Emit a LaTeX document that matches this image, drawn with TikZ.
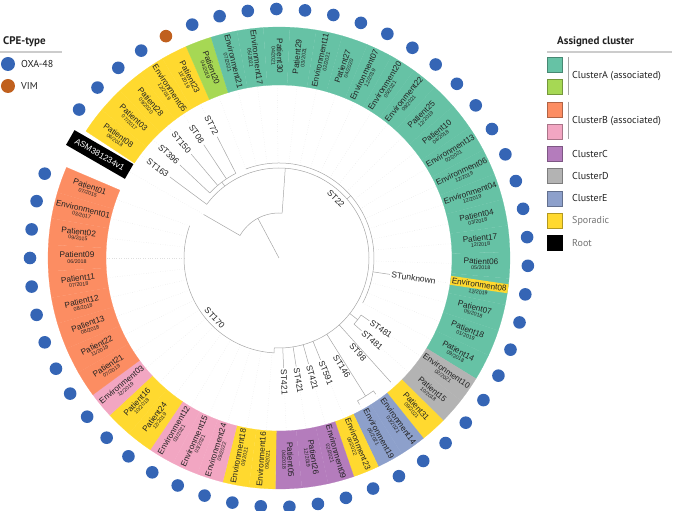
\documentclass[tikz,border=0pt]{standalone}
\usepackage{fontspec}
\setmainfont{Liberation Sans}
\newfontfamily\legfont{PT Sans}
\usepackage{tikz}
\usetikzlibrary{calc}

\definecolor{clA}{HTML}{66C2A5}
\definecolor{clAb}{HTML}{A6D854}
\definecolor{clB}{HTML}{FC8D62}
\definecolor{clBb}{HTML}{F2A6C2}
\definecolor{clC}{HTML}{B47CBC}
\definecolor{clD}{HTML}{B3B3B3}
\definecolor{clE}{HTML}{8DA0CB}
\definecolor{spor}{HTML}{FFD92F}
\definecolor{oxa}{HTML}{3565B5}
\definecolor{vim}{HTML}{C0601E}
\definecolor{ink}{HTML}{222222}

% name / month / year / ring colour / label style / dot colour
\def\leaves{%
Patient08/06/2018/spor/lblplain/oxa,%
Patient03/07/2017/spor/lblplain/oxa,%
Patient28/09/2020/spor/lblplain/oxa,%
Environment05/12/2019/spor/lblplain/oxa,%
Patient23/11/2019/spor/lblplain/vim,%
Patient20/04/2019/clAb/lblplain/oxa,%
Environment21/07/2021/clA/lblplain/oxa,%
Environment17/05/2021/clA/lblplain/oxa,%
Patient30/04/2021/clA/lblplain/oxa,%
Patient29/03/2021/clA/lblplain/oxa,%
Environment11/02/2021/clA/lblplain/oxa,%
Patient27/04/2020/clA/lblplain/oxa,%
Environment07/12/2019/clA/lblplain/oxa,%
Environment20/05/2021/clA/lblplain/oxa,%
Environment22/09/2021/clA/lblplain/oxa,%
Patient25/12/2019/clA/lblplain/oxa,%
Patient10/04/2018/clA/lblplain/oxa,%
Environment13/02/2021/clA/lblplain/oxa,%
Environment06/12/2019/clA/lblplain/oxa,%
Environment04/12/2019/clA/lblplain/oxa,%
Patient04/03/2018/clA/lblplain/oxa,%
Patient17/12/2018/clA/lblplain/oxa,%
Patient06/05/2018/clA/lblplain/oxa,%
Environment08/12/2019/clA/lblhl/oxa,%
Patient07/05/2018/clA/lblplain/oxa,%
Patient18/01/2019/clA/lblplain/oxa,%
Patient14/09/2018/clA/lblplain/oxa,%
Environment10/02/2021/clD/lblplain/oxa,%
Patient15/10/2018/clD/lblplain/oxa,%
Patient31/09/2021/spor/lblplain/oxa,%
Environment14/03/2021/clE/lblplain/oxa,%
Environment19/05/2021/clE/lblplain/oxa,%
Environment23/09/2022/spor/lblplain/oxa,%
Environment09/02/2021/clC/lblplain/oxa,%
Patient26/12/2019/clC/lblplain/oxa,%
Patient05/04/2018/clC/lblplain/oxa,%
Environment16/09/2021/spor/lblplain/oxa,%
Environment18/05/2021/spor/lblplain/oxa,%
Environment24/09/2022/clBb/lblplain/oxa,%
Environment15/03/2021/clBb/lblplain/oxa,%
Environment12/03/2021/clBb/lblplain/oxa,%
Patient24/12/2019/spor/lblplain/oxa,%
Patient16/10/2018/spor/lblplain/oxa,%
Environment03/12/2019/clBb/lblplain/oxa,%
Patient21/07/2019/clB/lblplain/oxa,%
Patient22/11/2019/clB/lblplain/oxa,%
Patient13/08/2018/clB/lblplain/oxa,%
Patient12/08/2018/clB/lblplain/oxa,%
Patient11/07/2018/clB/lblplain/oxa,%
Patient09/06/2018/clB/lblplain/oxa,%
Patient02/09/2015/clB/lblplain/oxa,%
Environment01/03/2017/clB/lblplain/oxa,%
Patient01/07/2015/clB/lblplain/oxa}

\begin{document}
\begin{tikzpicture}[x=1pt, y=1pt,
    branch/.style={draw=gray!70, line width=0.5pt},
    guide/.style={draw=gray!25, dotted, line width=0.4pt},
    leafname/.style={font=\fontsize{8.2}{9}\selectfont, text=ink, inner sep=0.2pt},
    leafdate/.style={font=\fontsize{5.3}{6}\selectfont, text=ink, inner sep=0.2pt, anchor=north},
    lblplain/.style={},
    lblhl/.style={fill=spor, minimum width=58pt, minimum height=9pt},
    stlab/.style={font=\fontsize{8.5}{9}\selectfont, text=ink, inner sep=0.5pt},
    legtext/.style={font=\legfont\fontsize{10}{11}\selectfont, text=ink, anchor=west, inner sep=0pt},
    legtitle/.style={font=\legfont\bfseries\fontsize{11}{12}\selectfont, text=ink, anchor=west, inner sep=0pt},
    legbox/.style={minimum size=15pt, inner sep=0pt, line width=0.6pt}]

\useasboundingbox (-279,-253) rectangle (406,258);

% ring of assigned clusters and CPE-type dots
\foreach \nm/\mo/\yr/\col/\hl/\dt [count=\j] in \leaves {
    \pgfmathsetmacro\a{150-\j*6.6}
    \fill[\col, draw=\col, line width=0.2pt] (\a-3.3:173pt)
        arc[start angle=\a-3.3, end angle=\a+3.3, radius=173pt]
        -- (\a+3.3:231pt)
        arc[start angle=\a+3.3, end angle=\a-3.3, radius=231pt] -- cycle;
    \fill[\dt] (\a:249pt) circle[radius=6.3pt];
}

% leaf labels
\foreach \nm/\mo/\yr/\col/\hl/\dt [count=\j] in \leaves {
    \pgfmathsetmacro\a{150-\j*6.6}
    \pgfmathsetmacro\rot{cos(\a)<0 ? \a+180 : \a}
    \node[leafname, \hl, rotate=\rot] (n\j) at ($(\a:202pt)+(\rot+90:3pt)$) {\nm};
    \node[leafdate, rotate=\rot] (d\j) at ($(n\j.south)+(\rot-90:0.6pt)$) {\mo/\yr};
}
\node[fill=black, text=white, rotate=330, minimum width=68pt, minimum height=17pt,
      font=\fontsize{8.5}{9}\selectfont, inner sep=0pt] (root) at (150:207pt) {ASM381234v1};

% dotted guides from tips to ring
\draw[guide] (150:87pt) -- (150:173pt);
\foreach \j in {1,...,5} \draw[guide] ({150-\j*6.6}:163pt) -- ({150-\j*6.6}:173pt);
\foreach \j in {6,...,23,25,26,27,37,38,...,53} \draw[guide] ({150-\j*6.6}:95pt) -- ({150-\j*6.6}:173pt);
\draw[guide] (-8.4:161pt) -- (-8.4:173pt);
\foreach \j in {28,29,33,34,35,36} \draw[guide] ({150-\j*6.6}:136pt) -- ({150-\j*6.6}:173pt);
\foreach \j in {30,31,32} \draw[guide] ({150-\j*6.6}:167pt) -- ({150-\j*6.6}:173pt);

% tree
\draw[branch] (0,0) -- (118:45pt);
\draw[branch] (86:45pt) arc[start angle=86, end angle=150, radius=45pt] -- (150:87pt);
\draw[branch] (86:45pt) -- (86:90pt);
\draw[branch] (143.4:136pt) -- (143.4:90pt)
    arc[start angle=143.4, end angle=-93, radius=90pt] -- (-93:95pt)
    arc[start angle=-93, end angle=-199.8, radius=95pt];
\draw[branch] (127:90pt) -- (127:95pt);
\draw[branch] (136.8:95pt) arc[start angle=136.8, end angle=117, radius=95pt];
\foreach \j in {2,...,5} \draw[branch] ({150-\j*6.6}:95pt) -- ({150-\j*6.6}:136pt);
\draw[branch] (41:90pt) -- (41:95pt);
\draw[branch] (110.4:95pt) arc[start angle=110.4, end angle=-28.2, radius=95pt];
\draw[branch] (-8.4:95pt) -- (-8.4:112pt);
\draw[branch] (-38.1:90pt) -- (-38.1:100pt);
\draw[branch] (-34.8:110pt) -- (-34.8:100pt)
    arc[start angle=-34.8, end angle=-41.4, radius=100pt] -- (-41.4:110pt);
\draw[branch] (-48:90pt) -- (-48:167pt);
\draw[branch] (-57.9:90pt) -- (-57.9:163pt);
\draw[branch] (-54.6:167pt) -- (-54.6:163pt)
    arc[start angle=-54.6, end angle=-61.2, radius=163pt] -- (-61.2:167pt);
\foreach \j in {33,34,35,36} \draw[branch] ({150-\j*6.6}:90pt) -- ({150-\j*6.6}:110pt);

% sequence types
\foreach \st [count=\j] in {ST163,ST396,ST150,ST08,ST72}
    \node[stlab, anchor=east, rotate={150-\j*6.6+180}] (st\j) at ({150-\j*6.6}:138pt) {\st};
\foreach \st/\j in {ST481/28,ST481/29,ST591/33,ST421/34,ST421/35,ST421/36}
    \node[stlab, anchor=west, rotate={150-\j*6.6}] (st\j) at ({150-\j*6.6}:111pt) {\st};
\node[stlab, anchor=west, rotate=-48] (st30) at ($(-48:112pt)+(-138:4.5pt)$) {ST98};
\node[stlab, anchor=west, rotate=-57.9] (st31) at ($(-57.9:112pt)+(-147.9:4.5pt)$) {ST146};
\node[stlab, anchor=west, rotate=-8.4] (st24) at (-8.4:113pt) {STunknown};
\node[stlab, rotate=-45] (st22) at (46:82pt) {ST22};
\node[stlab, rotate=-47] (st170) at (223:88pt) {ST170};

% legend CPE-type
\node[legtitle] (cpetitle) at (-276,216) {CPE-type};
\draw[gray!40, line width=1.2pt] (-279,206) -- (-217,206);
\node[circle, fill=oxa, minimum size=14pt, inner sep=0pt] (oxadot) at (-271,194) {};
\node[legtext] (oxatext) at (-258,194) {OXA-48};
\node[circle, fill=vim, minimum size=14pt, inner sep=0pt] (vimdot) at (-271,172) {};
\node[legtext] (vimtext) at (-258,172) {VIM};

% legend assigned cluster
\node[legtitle] (cltitle) at (278,216) {Assigned cluster};
\draw[gray!40, line width=1.2pt] (268,206) -- (393,206);
\foreach \c [count=\k] in {clA,clAb,clB,clBb,clC,clD,clE,spor,black}
    \node[legbox, fill=\c, draw=\c!70!black] (key\k) at (275.75,{193-(\k-1)*22.25}) {};
\draw[gray!70, line width=1pt] (289,201) -- (289,163);
\draw[gray!70, line width=1pt] (289,156.25) -- (289,118.5);
\node[legtext] (txtA) at (293,181.9) {ClusterA (associated)};
\node[legtext] (txtB) at (293,137.4) {ClusterB (associated)};
\node[legtext] (txtC) at (293,104) {ClusterC};
\node[legtext] (txtD) at (293,81.75) {ClusterD};
\node[legtext] (txtE) at (293,59.5) {ClusterE};
\node[legtext, text=gray!90!black] (txtS) at (293,37.25) {Sporadic};
\node[legtext, text=gray!90!black] (txtR) at (293,15) {Root};
\end{tikzpicture}
\end{document}
